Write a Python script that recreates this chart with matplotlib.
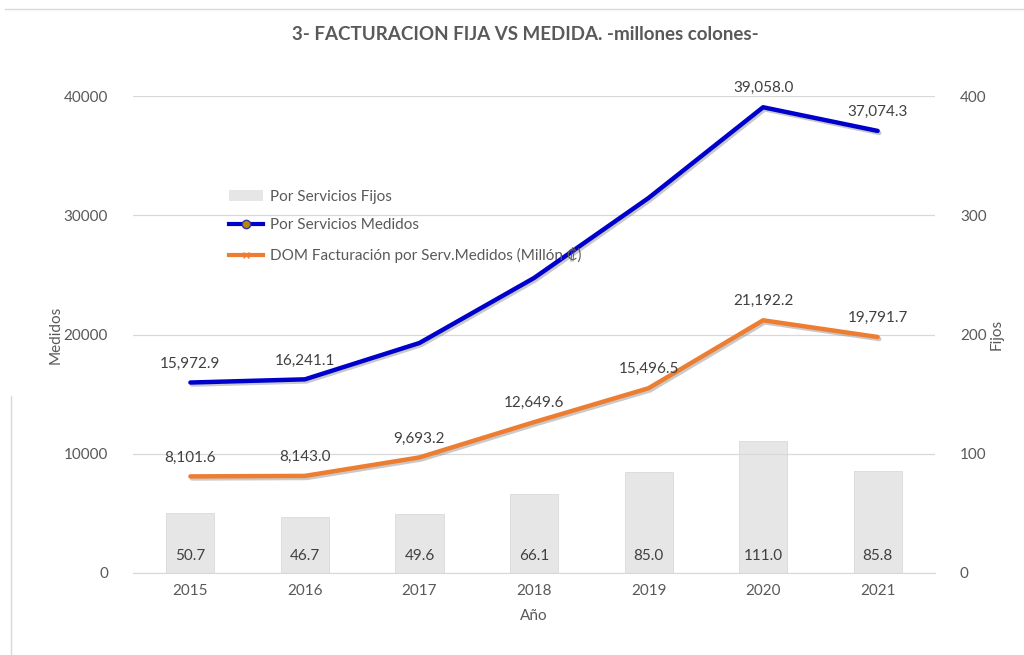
import matplotlib
matplotlib.use("Agg")
import matplotlib.pyplot as plt
from matplotlib.lines import Line2D
from matplotlib.patches import Patch
import matplotlib.patheffects as pe

years = ["2015", "2016", "2017", "2018", "2019", "2020", "2021"]
fijos = [50.7, 46.7, 49.6, 66.1, 85.0, 111.0, 85.8]
medidos = [15972.9, 16241.1, 19290.0, 24740.0, 31450.0, 39058.0, 37074.3]
medidos_labeled = [True, True, False, False, False, True, True]
dom = [8101.6, 8143.0, 9693.2, 12649.6, 15496.5, 21192.2, 19791.7]

plt.rcParams['font.family'] = ['Lato', 'DejaVu Sans']
txt = '#595959'

fig = plt.figure(figsize=(10.24, 6.55), dpi=100)
ax = fig.add_axes([0.130, 0.1252, 0.783, 0.7282])
ax2 = ax.twinx()
x = list(range(len(years)))

# bars on secondary axis (Fijos)
ax2.bar(x, fijos, width=0.42, color='#e6e6e6', edgecolor='#d9d9d9', linewidth=0.6, zorder=1)
for xi, v in zip(x, fijos):
    ax2.text(xi, 14, f"{v:.1f}", ha='center', va='center', fontsize=11, color='#404040')
ax2.set_ylim(0, 400)
ax2.set_yticks([0, 100, 200, 300, 400])
ax2.set_ylabel('Fijos', color=txt, fontsize=11)
ax2.yaxis.set_label_coords(1.0686, 0.50)

ax.set_zorder(ax2.get_zorder() + 1)
ax.patch.set_visible(False)

shadow = [pe.SimpleLineShadow(offset=(1.2, -1.5), shadow_color='#888888', alpha=0.45), pe.Normal()]
ax.plot(x, medidos, color='#0000cc', lw=3.2, solid_capstyle='round', path_effects=shadow, zorder=4)
ax.plot(x, dom, color='#ed7d31', lw=3.2, solid_capstyle='round', path_effects=shadow, zorder=3)

for xi, v, lab in zip(x, medidos, medidos_labeled):
    if lab:
        ax.text(xi, v + 1000, f"{v:,.1f}", ha='center', va='bottom', fontsize=11, color='#404040')
for xi, v in zip(x, dom):
    ax.text(xi, v + 1000, f"{v:,.1f}", ha='center', va='bottom', fontsize=11, color='#404040')

ax.set_ylim(0, 40000)
ax.set_xlim(-0.5, 6.5)
ax.set_yticks([0, 10000, 20000, 30000, 40000])
ax.set_xticks(x)
ax.set_xticklabels(years)
ax.yaxis.grid(True, color='#d9d9d9', lw=0.9)
ax.set_axisbelow(True)
ax2.yaxis.grid(False)
ax.set_ylabel('Medidos', color=txt, fontsize=11)
ax.yaxis.set_label_coords(-0.088, 0.50)
ax.set_xlabel('Año', color=txt, fontsize=11, labelpad=8)

for a in (ax, ax2):
    for s in a.spines.values():
        s.set_visible(False)
    a.tick_params(length=0, colors=txt, labelsize=11)
ax.spines['bottom'].set_visible(True)
ax.spines['bottom'].set_color('#d9d9d9')
ax.tick_params(axis='y', pad=18)
ax2.tick_params(axis='y', pad=18)
ax.tick_params(axis='x', pad=8)

fig.text(0.513, 0.948, '3- FACTURACION FIJA VS MEDIDA. -millones colones-', ha='center', va='center',
         fontsize=13.5, fontweight='bold', color=txt)

handles = [
    Patch(facecolor='#e6e6e6', edgecolor='none'),
    Line2D([0], [0], color='#0000cc', lw=3, marker='o', markersize=6, markerfacecolor='#b8860b', markeredgecolor='#3333aa'),
    Line2D([0], [0], color='#ed7d31', lw=3, marker='x', markersize=5, markeredgecolor='#ed7d31'),
]
labels = ['Por Servicios Fijos', 'Por Servicios Medidos', 'DOM Facturación por Serv.Medidos (Millón ₡)']
leg = ax.legend(handles, labels, loc='upper left', bbox_to_anchor=(0.103, 0.832), frameon=False,
                fontsize=11, labelcolor=txt, handlelength=2.2, handletextpad=0.45, labelspacing=0.95)
leg.set_zorder(10)

# screenshot frame lines
fig.add_artist(Line2D([0.005, 1.0], [0.987, 0.987], color='#d9d9d9', lw=1, transform=fig.transFigure))
fig.add_artist(Line2D([0.011, 0.011], [0.0, 0.395], color='#d9d9d9', lw=1, transform=fig.transFigure))

fig.savefig('out.png', dpi=100, facecolor='white')
